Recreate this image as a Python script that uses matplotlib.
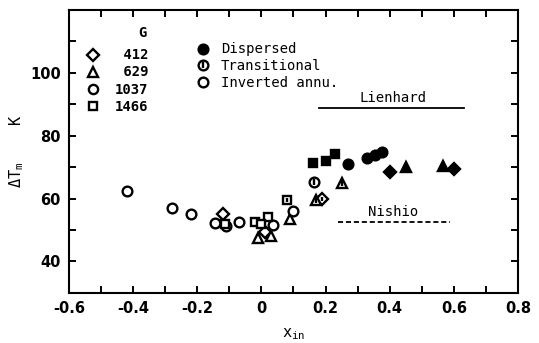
import matplotlib
matplotlib.use("Agg")
import matplotlib.pyplot as plt
from matplotlib.lines import Line2D
from matplotlib.legend_handler import HandlerTuple

plt.rcParams["axes.unicode_minus"] = False
plt.rcParams["mathtext.default"] = "regular"

MONO = "DejaVu Sans Mono"
SANS = "DejaVu Sans"

# Mass flux G and the three flow regimes
g_values = [412, 629, 1037, 1466]
regimes = ["Dispersed", "Transitional", "Inverted annu."]

# x_in / delta T_m readings, per mass flux and regime
x_412_inv = [-0.12, 0.01]
y_412_inv = [55.0, 49.5]
x_412_tra = [0.19]
y_412_tra = [60.0]
x_412_dis = [0.40, 0.60]
y_412_dis = [68.6, 69.3]

x_629_inv = [-0.01, 0.03, 0.09]
y_629_inv = [47.6, 48.0, 53.5]
x_629_tra = [0.17, 0.25]
y_629_tra = [59.7, 65.1]
x_629_dis = [0.45, 0.565]
y_629_dis = [70.2, 70.5]

x_1037_inv = [-0.42, -0.28, -0.22, -0.145, -0.11, -0.07, 0.035, 0.10]
y_1037_inv = [62.5, 57.0, 55.0, 52.1, 51.3, 52.5, 51.7, 56.0]
x_1037_tra = [0.165]
y_1037_tra = [65.2]
x_1037_dis = [0.27, 0.33, 0.355, 0.375]
y_1037_dis = [71.1, 73.0, 74.0, 74.9]

x_1466_inv = [-0.115, -0.02, 0.02, 0.0]
y_1466_inv = [51.8, 52.4, 54.3, 52.0]
x_1466_tra = [0.08]
y_1466_tra = [59.7]
x_1466_dis = [0.16, 0.20, 0.23]
y_1466_dis = [71.4, 71.8, 74.3]

# Correlation levels
lienhard_x = [0.178, 0.631]
lienhard_y = [88.9, 88.9]
nishio_x = [0.238, 0.588]
nishio_y = [52.7, 52.7]

series = {
    412: [(x_412_dis, y_412_dis), (x_412_tra, y_412_tra), (x_412_inv, y_412_inv)],
    629: [(x_629_dis, y_629_dis), (x_629_tra, y_629_tra), (x_629_inv, y_629_inv)],
    1037: [(x_1037_dis, y_1037_dis), (x_1037_tra, y_1037_tra), (x_1037_inv, y_1037_inv)],
    1466: [(x_1466_dis, y_1466_dis), (x_1466_tra, y_1466_tra), (x_1466_inv, y_1466_inv)],
}
shape = {412: ("D", 6.0), 629: ("^", 7.6), 1037: ("o", 7.0), 1466: ("s", 6.0)}
MEW = 1.7

fig = plt.figure(figsize=(5.39, 3.43), dpi=100)
ax = fig.add_axes([0.128, 0.146, 0.833, 0.825])


def draw(xs, ys, marker, ms, regime):
    if regime == 0:
        ax.plot(xs, ys, ls="none", marker=marker, ms=ms, mfc="black",
                mec="black", mew=MEW, zorder=3)
    elif regime == 1:
        ax.plot(xs, ys, ls="none", marker=marker, ms=ms, mfc="white",
                mec="black", mew=MEW, zorder=3)
        ax.plot(xs, ys, ls="none", marker="|", ms=ms * 0.6, mec="black",
                mew=MEW, zorder=4)
    else:
        ax.plot(xs, ys, ls="none", marker=marker, ms=ms, mfc="white",
                mec="black", mew=MEW, zorder=3)


for g in g_values:
    mk, ms = shape[g]
    for r, (xs, ys) in enumerate(series[g]):
        draw(xs, ys, mk, ms, r)

ax.plot(lienhard_x, lienhard_y, color="black", lw=1.3)
ax.plot(nishio_x, nishio_y, color="black", lw=1.3, ls=(0, (2.8, 1.6)))
ax.text(0.41, 92.1, "Lienhard", ha="center", va="center",
        family=MONO, fontsize=10)
ax.text(0.41, 55.6, "Nishio", ha="center", va="center",
        family=MONO, fontsize=10)

ax.set_xlim(-0.6, 0.8)
ax.set_ylim(30, 120)
ax.set_xticks([-0.6, -0.4, -0.2, 0, 0.2, 0.4, 0.6, 0.8])
ax.set_xticklabels(["-0.6", "-0.4", "-0.2", "0", "0.2", "0.4", "0.6", "0.8"])
ax.set_xticks([-0.5, -0.3, -0.1, 0.1, 0.3, 0.5, 0.7], minor=True)
ax.set_yticks([40, 60, 80, 100])
ax.set_yticks([50, 70, 90, 110], minor=True)
ax.tick_params(which="both", direction="in", length=5, width=1.4,
               top=True, right=True, labelsize=10.5, pad=6)
for lab in ax.get_xticklabels() + ax.get_yticklabels():
    lab.set_fontweight("bold")
    lab.set_family(SANS)
for s in ax.spines.values():
    s.set_linewidth(1.5)

ax.set_xlabel("x$_{in}$", family=MONO, fontsize=11, labelpad=7)
ax.set_ylabel("$\\Delta$T$_m$    K", family=MONO, fontsize=11, labelpad=3)

# Legend for mass flux G
ax.text(0.163, 0.919, "G", transform=ax.transAxes, ha="center", va="center",
        family=MONO, fontweight="bold", fontsize=10)
g_handles = [Line2D([], [], ls="none", marker=shape[g][0], ms=shape[g][1] * 0.95,
                    mfc="white", mec="black", mew=MEW) for g in g_values]
g_labels = [f"{g:>4d}" for g in g_values]
leg1 = ax.legend(g_handles, g_labels, loc="upper left",
                 bbox_to_anchor=(0.037, 0.864), frameon=False,
                 prop={"family": MONO, "weight": "bold", "size": 10},
                 handlelength=1.0, handletextpad=1.1,
                 labelspacing=0.22, borderaxespad=0, borderpad=0)
ax.add_artist(leg1)

# Legend for flow regime
h_dis = Line2D([], [], ls="none", marker="o", ms=7, mfc="black", mec="black", mew=MEW)
h_tra = (Line2D([], [], ls="none", marker="o", ms=7, mfc="white", mec="black", mew=MEW),
         Line2D([], [], ls="none", marker="|", ms=4.2, mec="black", mew=MEW))
h_inv = Line2D([], [], ls="none", marker="o", ms=7, mfc="white", mec="black", mew=MEW)
leg2 = ax.legend([h_dis, h_tra, h_inv], regimes, loc="upper left",
                 bbox_to_anchor=(0.27, 0.905), frameon=False,
                 prop={"family": MONO, "size": 10},
                 handler_map={tuple: HandlerTuple(ndivide=1)},
                 handlelength=1.0, handletextpad=0.8,
                 labelspacing=0.2, borderaxespad=0)

fig.savefig("out.png", dpi=100)
